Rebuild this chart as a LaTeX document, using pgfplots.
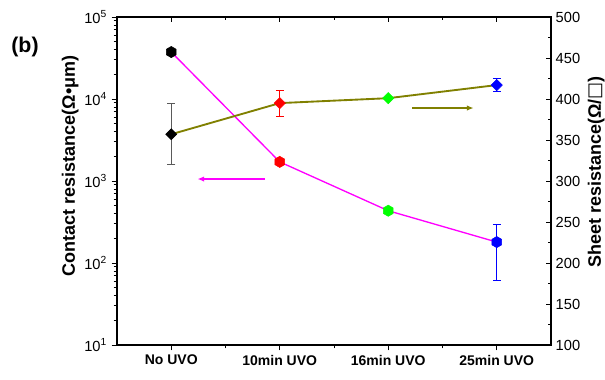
\documentclass[border=0pt]{standalone}
\usepackage{fontspec}
\setmainfont{Liberation Sans}
\newfontfamily\dejavu{DejaVu Sans}
\usepackage{pgfplots}
\pgfplotsset{compat=1.18}
\usetikzlibrary{arrows.meta}
\definecolor{olivel}{RGB}{128,128,0}
\definecolor{magl}{RGB}{255,0,255}
\definecolor{greenl}{RGB}{0,255,0}
\definecolor{errgray}{RGB}{90,90,90}
\pgfdeclareplotmark{hexagon*}{%
  \pgfpathmoveto{\pgfqpointpolar{90}{\pgfplotmarksize}}%
  \pgfpathlineto{\pgfqpointpolar{150}{\pgfplotmarksize}}%
  \pgfpathlineto{\pgfqpointpolar{210}{\pgfplotmarksize}}%
  \pgfpathlineto{\pgfqpointpolar{270}{\pgfplotmarksize}}%
  \pgfpathlineto{\pgfqpointpolar{330}{\pgfplotmarksize}}%
  \pgfpathlineto{\pgfqpointpolar{30}{\pgfplotmarksize}}%
  \pgfpathclose
  \pgfusepathqfillstroke}
\pgfdeclareplotmark{sqdiamond*}{%
  \pgfpathmoveto{\pgfqpoint{0pt}{\pgfplotmarksize}}%
  \pgfpathlineto{\pgfqpoint{\pgfplotmarksize}{0pt}}%
  \pgfpathlineto{\pgfqpoint{0pt}{-\pgfplotmarksize}}%
  \pgfpathlineto{\pgfqpoint{-\pgfplotmarksize}{0pt}}%
  \pgfpathclose
  \pgfusepathqfillstroke}
\begin{document}
\begin{tikzpicture}[x=1pt,y=1pt]
\useasboundingbox (0,0) rectangle (453.75,284.25);
\node[font=\bfseries\fontsize{16}{18}\selectfont] at (18.75,249) {(b)};
\pgfplotsset{
  commonaxis/.style={
    at={(87.75pt,25.5pt)}, anchor=south west, scale only axis,
    width=325.5pt, height=246pt,
    xmin=-0.5, xmax=3.5,
    xtick={0,1,2,3}, minor x tick num=1,
    major tick length=4pt, minor tick length=2.5pt,
    every tick/.style={black, line width=0.7pt},
    every minor tick/.style={black, line width=0.6pt},
    axis line style={line width=0.8pt},
    clip=false,
  }
}
\begin{axis}[commonaxis,
  ymode=log, ymin=10, ymax=1e5,
  xticklabels={No UVO,10min UVO,16min UVO,25min UVO},
  xtick pos=bottom, ytick pos=left, tick align=outside,
  ytick={10,100,1000,10000,100000},
  yticklabels={10\textsuperscript{1},10\textsuperscript{2},10\textsuperscript{3},10\textsuperscript{4},10\textsuperscript{5}},
  xticklabel style={font=\bfseries\fontsize{10.5}{12}\selectfont},
  yticklabel style={font=\fontsize{11}{12}\selectfont},
  ylabel={Contact resistance(Ω•μm)},
  every axis y label/.style={font=\bfseries\fontsize{13.5}{15}\selectfont, at={(axis description cs:-0.108,0.546)}, anchor=center, rotate=90},
]
\addplot[magl, line width=1pt, no markers] coordinates {(0,37400)(1,1710)(2,434)(3,180)};
\addplot[only marks, mark=hexagon*, mark size=4.2pt, black] coordinates {(0,37400)};
\addplot[only marks, mark=hexagon*, mark size=4.2pt, red] coordinates {(1,1710)};
\addplot[only marks, mark=hexagon*, mark size=4.2pt, greenl] coordinates {(2,434)};
\addplot[only marks, mark=hexagon*, mark size=4.2pt, blue,
  error bars/.cd, y dir=both, y explicit,
  error bar style={blue, line width=0.7pt},
  error mark options={rotate=90, mark size=3pt, blue, line width=0.7pt}]
  coordinates {(3,180) +- (0,118)};
\draw[magl, line width=1pt, -{Latex[length=5pt,width=4pt]}] (axis cs:0.861,1057) -- (axis cs:0.241,1057);
\end{axis}
\begin{axis}[commonaxis,
  ymin=100, ymax=500,
  axis x line*=top, axis y line*=right,
  xticklabels={},
  ytick={100,150,...,500}, minor y tick num=1,
  tick align=inside,
  /pgf/number format/assume math mode=true,
  yticklabel style={font=\fontsize{11}{12}\selectfont},
  ylabel={Sheet resistance(Ω/{\dejavu □})},
  every axis y label/.style={font=\bfseries\fontsize{13.5}{15}\selectfont, at={(axis description cs:1.104,0.527)}, anchor=center, rotate=90},
]
\addplot[olivel, line width=1.4pt, no markers] coordinates {(0,357)(1,395)(2,401)(3,417)};
\addplot[only marks, mark=sqdiamond*, mark size=4.2pt, black,
  error bars/.cd, y dir=both, y explicit,
  error bar style={errgray, line width=0.8pt},
  error mark options={rotate=90, mark size=3pt, errgray, line width=0.8pt}]
  coordinates {(0,357) +- (0,37)};
\addplot[only marks, mark=sqdiamond*, mark size=4.2pt, red,
  error bars/.cd, y dir=both, y explicit,
  error bar style={red, line width=0.7pt},
  error mark options={rotate=90, mark size=3pt, red, line width=0.7pt}]
  coordinates {(1,395) +- (0,16)};
\addplot[only marks, mark=sqdiamond*, mark size=4.2pt, greenl] coordinates {(2,401)};
\addplot[only marks, mark=sqdiamond*, mark size=4.2pt, blue,
  error bars/.cd, y dir=both, y explicit,
  error bar style={blue, line width=0.7pt},
  error mark options={rotate=90, mark size=3pt, blue, line width=0.7pt}]
  coordinates {(3,417) +- (0,7.5)};
\draw[olivel, line width=1.4pt, -{Latex[length=5pt,width=4pt]}] (axis cs:2.222,389) -- (axis cs:2.787,389);
\end{axis}
\end{tikzpicture}
\end{document}
